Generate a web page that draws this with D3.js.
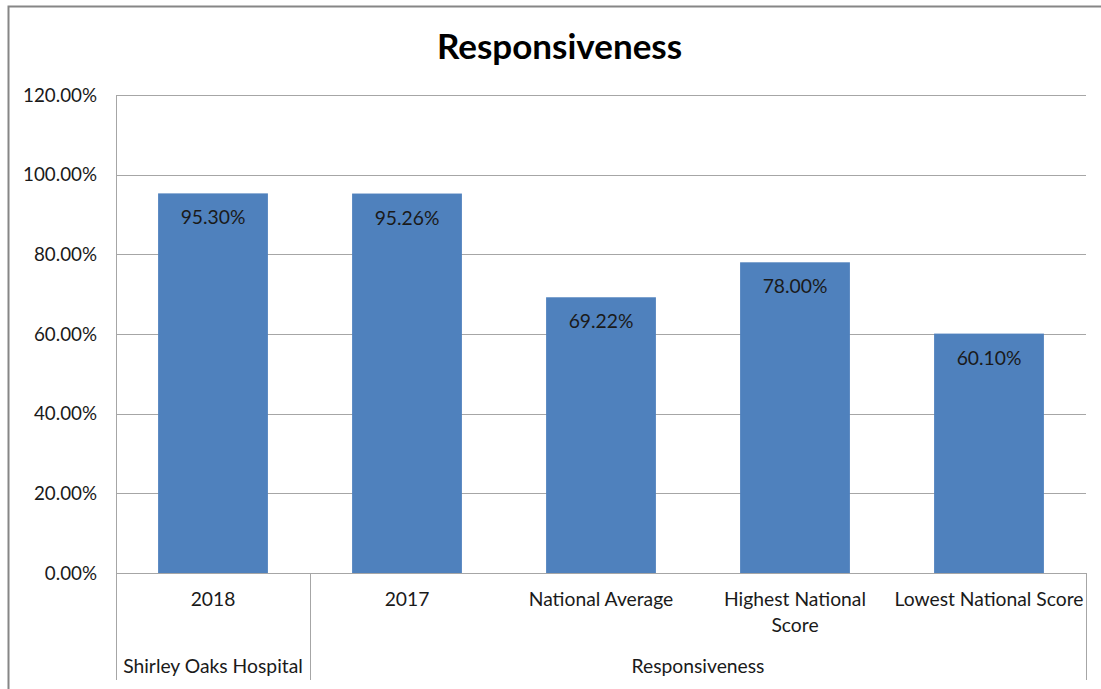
<!DOCTYPE html>
<html><head><meta charset="utf-8">
<script src="https://cdn.jsdelivr.net/npm/d3@7"></script>
<style>
html,body{margin:0;padding:0;background:#fff;}
svg{display:block;}
text{font-family:Lato,"Noto Sans",sans-serif;fill:#1a1a1a;}
</style></head>
<body>
<svg id="c" width="1101" height="689"></svg>
<script>
const title = "Responsiveness";
const categories = ["2018", "2017", "National Average", "Highest National Score", "Lowest National Score"];
const categoryLines = [["2018"], ["2017"], ["National Average"], ["Highest National", "Score"], ["Lowest National Score"]];
const values = [0.9530, 0.9526, 0.6922, 0.7800, 0.6010];
const groups = ["Shirley Oaks Hospital", "Responsiveness"];
const groupSizes = [1, 4];
const yTicks = [0, 0.2, 0.4, 0.6, 0.8, 1.0, 1.2];

const svg = d3.select("#c");
const L = 116, R = 1086, T = 95, B = 573, AX_BOTTOM = 680;

// chart border
svg.append("rect").attr("x", 8.5).attr("y", 6.5).attr("width", 1200).attr("height", 800)
  .attr("fill", "none").attr("stroke", "#868686").attr("stroke-width", 2);

const x = d3.scaleBand().domain(categories).range([L, R]).paddingInner(0.434).paddingOuter(0.217);
const y = d3.scaleLinear().domain([0, 1.2]).range([B, T]);

// gridlines
svg.append("g").selectAll("line").data(yTicks.filter(d => d > 0)).join("line")
  .attr("x1", L).attr("x2", R).attr("y1", d => Math.round(y(d)) + 0.5).attr("y2", d => Math.round(y(d)) + 0.5)
  .attr("stroke", "#a6a6a6").attr("stroke-width", 1);

// y axis labels
const fmt = d3.format(".2%");
svg.append("g").selectAll("text").data(yTicks).join("text")
  .attr("x", 97).attr("y", d => y(d)).attr("dy", "0.35em").attr("text-anchor", "end")
  .style("font-size", "18.8px").text(d => fmt(d));

// bars
svg.append("g").selectAll("rect").data(values).join("rect")
  .attr("x", (d, i) => x(categories[i])).attr("width", x.bandwidth())
  .attr("y", d => y(d)).attr("height", d => B - y(d)).attr("fill", "#4f81bd");

// data labels
svg.append("g").selectAll("text").data(values).join("text")
  .attr("x", (d, i) => x(categories[i]) + x.bandwidth() / 2).attr("y", d => y(d) + 31)
  .attr("text-anchor", "middle").style("font-size", "19.3px").text(d => fmt(d));

// axes lines
const ax = svg.append("g").attr("stroke", "#a6a6a6").attr("stroke-width", 1);
ax.append("line").attr("x1", L + 0.5).attr("x2", L + 0.5).attr("y1", T).attr("y2", AX_BOTTOM);
ax.append("line").attr("x1", L).attr("x2", R).attr("y1", B + 0.5).attr("y2", B + 0.5);
let acc = 0;
const bounds = [];
groupSizes.forEach(n => { acc += n; bounds.push(acc); });
bounds.forEach(b => {
  const xx = Math.round(L + (R - L) * b / categories.length) + 0.5;
  ax.append("line").attr("x1", xx).attr("x2", xx).attr("y1", B).attr("y2", AX_BOTTOM);
});

// category labels
const cl = svg.append("g");
categoryLines.forEach((lines, i) => {
  const cx = x(categories[i]) + x.bandwidth() / 2;
  const t = cl.append("text").attr("text-anchor", "middle").style("font-size", "19.3px");
  lines.forEach((ln, j) => t.append("tspan").attr("x", cx).attr("y", 606 + j * 26).text(ln));
});

// group labels
let start = 0;
groups.forEach((g, gi) => {
  const s = L + (R - L) * start / categories.length;
  const e = L + (R - L) * (start + groupSizes[gi]) / categories.length;
  svg.append("text").attr("x", (s + e) / 2).attr("y", 673).attr("text-anchor", "middle")
    .style("font-size", "19.3px").text(g);
  start += groupSizes[gi];
});

// title
svg.append("text").attr("x", 559.5).attr("y", 59).attr("text-anchor", "middle")
  .style("font-size", "35px").style("font-weight", "bold").style("fill", "#000").text(title);
</script>
</body></html>
